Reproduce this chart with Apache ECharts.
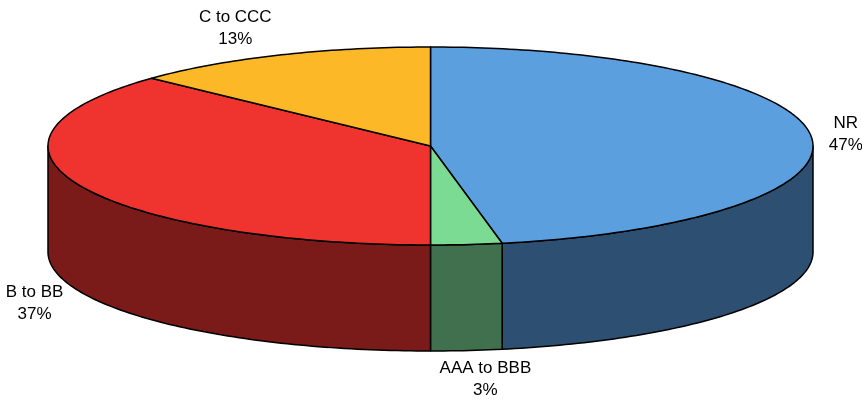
<!DOCTYPE html>
<html>
<head>
<meta charset="UTF-8">
<script src="https://cdn.jsdelivr.net/npm/echarts@6/dist/echarts.min.js"></script>
</head>
<body style="margin:0;background:#fff">
<div id="main" style="width:862px;height:402px;"></div>
<script>
const categories = ['NR', 'AAA to BBB', 'B to BB', 'C to CCC'];
const shares = [47, 3, 37, 13];
const topColors = ['#5b9fde', '#7bdb92', '#ef332e', '#fcb827'];
const sideColors = ['#2d5072', '#41704e', '#7a1a19', '#fcb827'];

const chart = echarts.init(document.getElementById('main'));

// pie geometry (ellipse seen from above, clockwise from 12 o'clock)
const cx = 430.5, cy = 146, rx = 382.5, ry = 99, depth = 106;
const labelRx = 400, labelRy = 128;
const font = '17px "Liberation Sans", Arial, sans-serif';

const total = shares.reduce((a, b) => a + b, 0);
let acc = 0;
const slices = shares.map((v, i) => {
    const s = acc / total;
    acc += v;
    return [i, s, acc / total, v];
});

const ctx = document.createElement('canvas').getContext('2d');
ctx.font = font;

function pt(t, dy) {
    const a = t * 2 * Math.PI;
    return [cx + rx * Math.sin(a), cy - ry * Math.cos(a) + dy];
}
function arc(t0, t1, dy) {
    const n = Math.max(2, Math.ceil((t1 - t0) * 360));
    const pts = [];
    for (let k = 0; k <= n; k++) pts.push(pt(t0 + (t1 - t0) * k / n, dy));
    return pts;
}

function renderItem(params, api) {
    const i = api.value(0), t0 = api.value(1), t1 = api.value(2), v = api.value(3);
    const children = [];

    // visible side wall (front half only)
    const s0 = Math.max(t0, 0.25), s1 = Math.min(t1, 0.75);
    if (s1 > s0) {
        const pts = arc(s0, s1, 0).concat(arc(s0, s1, depth).reverse());
        children.push({
            type: 'polygon', z2: 1,
            shape: { points: pts },
            style: { fill: sideColors[i], stroke: '#000', lineWidth: 1.5, lineJoin: 'round' }
        });
    }

    // top face
    children.push({
        type: 'polygon', z2: 5,
        shape: { points: [[cx, cy]].concat(arc(t0, t1, 0)) },
        style: { fill: topColors[i], stroke: '#000', lineWidth: 1.5, lineJoin: 'round' }
    });

    // label
    const name = categories[i];
    const pct = Math.round(v / total * 100) + '%';
    const w = Math.max(ctx.measureText(name).width, ctx.measureText(pct).width);
    const a = (t0 + t1) * Math.PI;
    const sn = Math.sin(a), cs = Math.cos(a);
    const lx = cx + labelRx * sn + Math.sign(sn) * (w / 2) * Math.min(1, Math.abs(sn) * 4);
    const ly = cy - labelRy * cs + (cs < 0 ? depth : 0);
    children.push({
        type: 'text', z2: 10,
        style: {
            text: name + '\n' + pct,
            x: lx, y: ly,
            align: 'center', verticalAlign: 'middle',
            font: font, lineHeight: 22, fill: '#000'
        }
    });

    return { type: 'group', children: children };
}

chart.setOption({
    animation: false,
    series: [{
        type: 'custom',
        coordinateSystem: 'none',
        silent: true,
        renderItem: renderItem,
        data: slices
    }]
});
</script>
</body>
</html>
